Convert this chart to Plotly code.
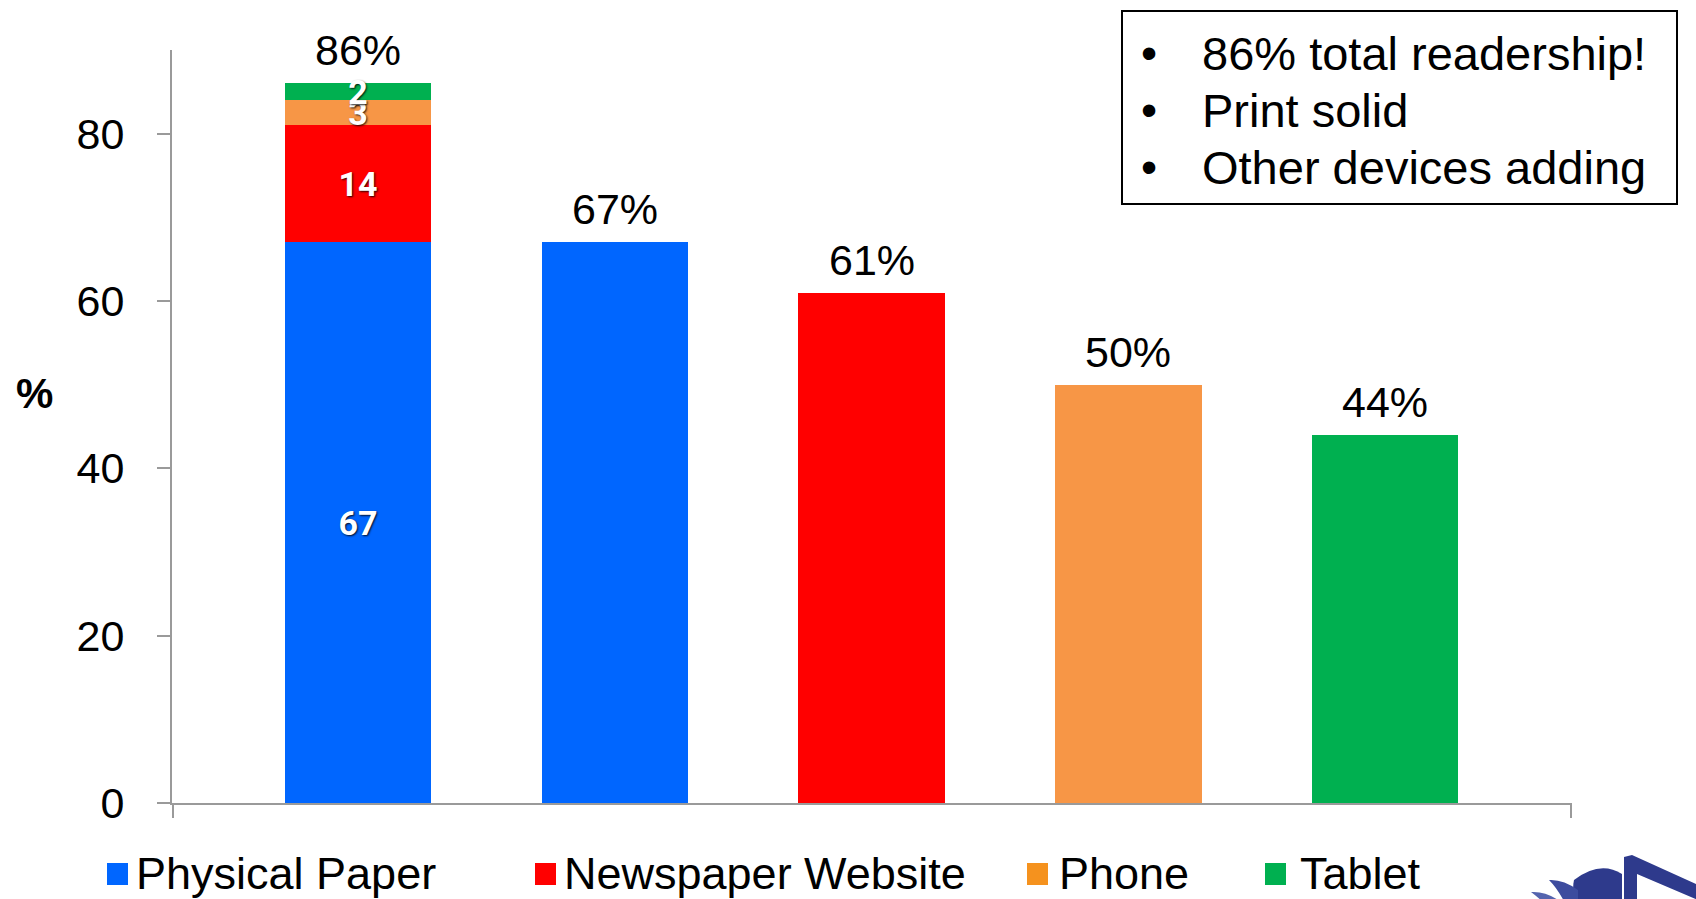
import plotly.graph_objects as go

# ---- data -------------------------------------------------------------
categories = ["Total", "Physical Paper", "Newspaper Website", "Phone", "Tablet"]
series_names = ["Physical Paper", "Newspaper Website", "Phone", "Tablet"]
series_colors = ["#0066FF", "#FF0000", "#F79646", "#00B050"]
legend_colors = ["#0066FF", "#FF0000", "#F5921E", "#00B050"]
stack_values = [67, 14, 3, 2]          # make-up of the total bar
single_values = [67, 61, 50, 44]       # each platform on its own
y_ticks = [0, 20, 40, 60, 80]
notes = ["86% total readership!", "Print solid", "Other devices adding"]

# ---- geometry helpers (figure pixels -> paper units) ------------------
W, H = 1696, 899
ML, MR, MT, MB = 172, 124, 50, 96
PW, PH = W - ML - MR, H - MT - MB


def px(x):
    return (x - ML) / PW


def py(y):
    return (H - MB - y) / PH


def path(points):
    """Closed polygon / quadratic path given in figure pixels."""
    out = []
    for p in points:
        if p[0] == "Q":
            out.append(f"Q{px(p[1])},{py(p[2])} {px(p[3])},{py(p[4])}")
        else:
            out.append(f"{p[0]}{px(p[1])},{py(p[2])}")
    return " ".join(out) + " Z"


positions = list(range(len(categories)))
x_lo, x_hi = -0.724, 4.727

fig = go.Figure()

for k, name in enumerate(series_names):
    fig.add_trace(go.Bar(
        name=name,
        x=[positions[0], positions[k + 1]],
        y=[stack_values[k], single_values[k]],
        text=[str(stack_values[k]), ""],
        textposition="inside",
        insidetextanchor="middle",
        textangle=0,
        constraintext="none",
        textfont=dict(family="Liberation Sans Narrow, Roboto, Liberation Sans, sans-serif",
                      size=34, color="white", weight="bold",
                      shadow="1px 1px 2px rgba(0,0,0,0.85)"),
        marker=dict(color=series_colors[k], line=dict(width=0)),
        width=0.57,
        showlegend=False,
    ))

# value labels above each bar
totals = [sum(stack_values)] + single_values
annotations = []
for xi, tot in zip(positions, totals):
    annotations.append(dict(
        x=xi, y=tot, xref="x", yref="y", text=f"{tot}%",
        showarrow=False, yanchor="bottom", xanchor="center", yshift=7,
        font=dict(size=43, color="black"),
    ))

# "%" axis caption
annotations.append(dict(
    x=px(34), y=py(393), xref="paper", yref="paper", text="<b>%</b>",
    showarrow=False, xanchor="center", yanchor="middle",
    font=dict(size=42, color="black"),
))

shapes = []

# legend along the bottom
legend_sq_x = [107, 535, 1027, 1265]
legend_txt_x = [134, 562, 1057, 1298]
for name, col, sx, tx in zip(series_names, legend_colors, legend_sq_x, legend_txt_x):
    shapes.append(dict(type="rect", xref="paper", yref="paper",
                       x0=px(sx), x1=px(sx + 21), y0=py(885), y1=py(863),
                       fillcolor=col, line=dict(width=0)))
    annotations.append(dict(
        x=px(tx), y=py(874), xref="paper", yref="paper", text=name,
        showarrow=False, xanchor="left", yanchor="middle",
        font=dict(size=45, color="black"),
    ))

# bulleted note box
shapes.append(dict(type="rect", xref="paper", yref="paper",
                   x0=px(1122), x1=px(1677), y0=py(204), y1=py(11),
                   fillcolor="white", line=dict(color="black", width=2)))
for i, line in enumerate(notes):
    yc = 53 + 57 * i
    annotations.append(dict(
        x=px(1149), y=py(yc), xref="paper", yref="paper", text="•",
        showarrow=False, xanchor="center", yanchor="middle",
        font=dict(size=46, color="black"),
    ))
    annotations.append(dict(
        x=px(1200), y=py(yc), xref="paper", yref="paper", text=line,
        showarrow=False, xanchor="left", yanchor="middle",
        font=dict(size=47, color="black"),
    ))

# corner emblem: outlined triangle plus fan blades
navy = "#2E3A8C"
tri = (path([("M", 1624, 905), ("L", 1624, 857), ("L", 1632, 855),
             ("L", 1705, 888), ("L", 1705, 905)]) + " " +
       path([("M", 1637, 905), ("L", 1705, 905), ("L", 1705, 903),
             ("L", 1637, 874)]))
shapes.append(dict(type="path", xref="paper", yref="paper", path=tri,
                   fillcolor=navy, fillrule="evenodd", line=dict(width=0)))
blades = [
    (path([("M", 1622, 905), ("L", 1622, 874), ("Q", 1600, 860, 1574, 880),
           ("Q", 1571, 894, 1578, 905)]), navy),
    (path([("M", 1549, 880), ("Q", 1563, 879, 1578, 890), ("L", 1578, 905),
           ("L", 1566, 905), ("Q", 1558, 889, 1549, 880)]), "#3D4C9E"),
    (path([("M", 1531, 892), ("Q", 1545, 891, 1558, 900), ("L", 1558, 905),
           ("L", 1546, 905), ("Q", 1539, 898, 1531, 892)]), "#5564AE"),
]
for d, c in blades:
    shapes.append(dict(type="path", xref="paper", yref="paper", path=d,
                       fillcolor=c, line=dict(width=0)))

fig.update_layout(
    width=W, height=H,
    margin=dict(l=ML, r=MR, t=MT, b=MB, pad=0),
    barmode="stack",
    paper_bgcolor="white", plot_bgcolor="white",
    font=dict(family="Liberation Sans, Arial, sans-serif", color="black"),
    uniformtext=dict(minsize=34, mode="show"),
    showlegend=False,
    annotations=annotations,
    shapes=shapes,
    xaxis=dict(
        range=[x_lo, x_hi], showgrid=False, zeroline=False,
        showline=True, linecolor="#9a9a9a", linewidth=2,
        tickvals=[x_lo + 0.002, x_hi - 0.002], ticks="outside", ticklen=13,
        tickwidth=2, tickcolor="#9a9a9a", showticklabels=False,
    ),
    yaxis=dict(
        range=[0, 90], showgrid=False, zeroline=False,
        showline=True, linecolor="#9a9a9a", linewidth=2,
        tickvals=y_ticks, ticks="outside", ticklen=13, tickwidth=2,
        tickcolor="#9a9a9a", ticklabelstandoff=24,
        tickfont=dict(size=43, color="black"),
    ),
)

fig.write_html("out.html")
